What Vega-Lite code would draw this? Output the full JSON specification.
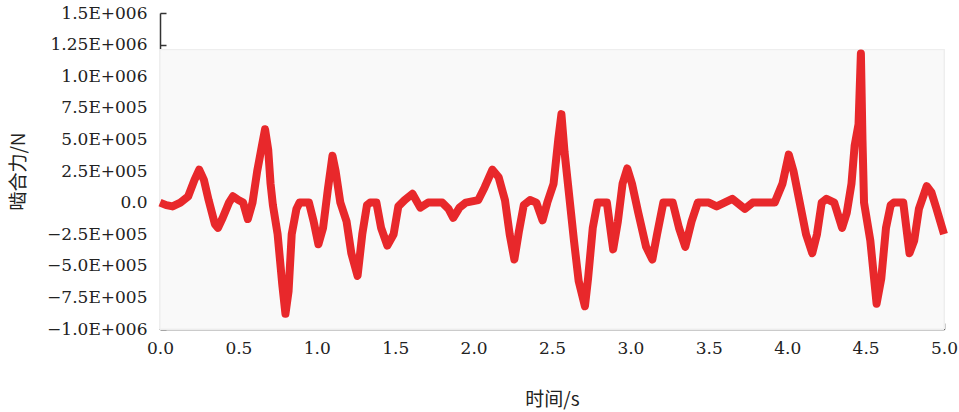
{
  "$schema": "https://vega.github.io/schema/vega-lite/v6.json",
  "width": 784,
  "height": 316,
  "autosize": {"type": "none"},
  "padding": {"left": 160, "top": 13, "right": 15, "bottom": 83},
  "background": "#ffffff",
  "config": {
    "view": {"stroke": null},
    "axis": {
      "grid": false,
      "domainColor": "#333333",
      "domainWidth": 1.5,
      "tickColor": "#333333",
      "tickWidth": 1.5,
      "tickSize": -6,
      "labelFlush": false,
      "labelOverlap": false,
      "labelFont": "DejaVu Serif",
      "labelFontSize": 17,
      "labelColor": "#222222",
      "titleFont": "Noto Sans CJK SC",
      "titleFontSize": 19,
      "titleFontWeight": "normal",
      "titleColor": "#222222"
    }
  },
  "data": {
    "values": [
      {"t": 0.00, "f": 0}, {"t": 0.04, "f": -20000}, {"t": 0.08, "f": -30000},
      {"t": 0.13, "f": 0}, {"t": 0.18, "f": 50000}, {"t": 0.22, "f": 180000},
      {"t": 0.25, "f": 260000}, {"t": 0.28, "f": 180000}, {"t": 0.31, "f": 20000},
      {"t": 0.35, "f": -170000}, {"t": 0.37, "f": -200000}, {"t": 0.40, "f": -120000},
      {"t": 0.44, "f": 0}, {"t": 0.465, "f": 50000}, {"t": 0.50, "f": 20000},
      {"t": 0.53, "f": 0}, {"t": 0.56, "f": -130000}, {"t": 0.59, "f": 0},
      {"t": 0.62, "f": 250000}, {"t": 0.65, "f": 450000}, {"t": 0.67, "f": 580000},
      {"t": 0.69, "f": 420000}, {"t": 0.705, "f": 150000}, {"t": 0.72, "f": -20000},
      {"t": 0.75, "f": -250000}, {"t": 0.78, "f": -650000}, {"t": 0.80, "f": -880000},
      {"t": 0.82, "f": -700000}, {"t": 0.84, "f": -250000}, {"t": 0.87, "f": -50000},
      {"t": 0.89, "f": 0}, {"t": 0.95, "f": 0}, {"t": 0.98, "f": -150000},
      {"t": 1.01, "f": -330000}, {"t": 1.04, "f": -200000}, {"t": 1.07, "f": 100000},
      {"t": 1.10, "f": 370000}, {"t": 1.12, "f": 250000}, {"t": 1.15, "f": 0},
      {"t": 1.19, "f": -150000}, {"t": 1.22, "f": -400000}, {"t": 1.26, "f": -580000},
      {"t": 1.29, "f": -250000}, {"t": 1.32, "f": -20000}, {"t": 1.34, "f": 0},
      {"t": 1.38, "f": 0}, {"t": 1.41, "f": -200000}, {"t": 1.45, "f": -340000},
      {"t": 1.49, "f": -250000}, {"t": 1.52, "f": -30000}, {"t": 1.56, "f": 20000},
      {"t": 1.61, "f": 70000}, {"t": 1.66, "f": -40000}, {"t": 1.71, "f": 0},
      {"t": 1.80, "f": 0}, {"t": 1.84, "f": -50000}, {"t": 1.87, "f": -120000},
      {"t": 1.91, "f": -40000}, {"t": 1.95, "f": 0}, {"t": 2.03, "f": 20000},
      {"t": 2.07, "f": 120000}, {"t": 2.12, "f": 260000}, {"t": 2.16, "f": 200000},
      {"t": 2.20, "f": 20000}, {"t": 2.23, "f": -250000}, {"t": 2.26, "f": -450000},
      {"t": 2.29, "f": -220000}, {"t": 2.32, "f": -20000}, {"t": 2.36, "f": 20000},
      {"t": 2.40, "f": 0}, {"t": 2.44, "f": -140000}, {"t": 2.47, "f": 0},
      {"t": 2.51, "f": 150000}, {"t": 2.54, "f": 500000}, {"t": 2.56, "f": 700000},
      {"t": 2.58, "f": 400000}, {"t": 2.61, "f": 50000}, {"t": 2.64, "f": -300000},
      {"t": 2.67, "f": -620000}, {"t": 2.71, "f": -820000}, {"t": 2.73, "f": -600000},
      {"t": 2.76, "f": -200000}, {"t": 2.79, "f": 0}, {"t": 2.85, "f": 0},
      {"t": 2.89, "f": -370000}, {"t": 2.92, "f": -150000}, {"t": 2.95, "f": 150000},
      {"t": 2.98, "f": 270000}, {"t": 3.01, "f": 150000}, {"t": 3.05, "f": -80000},
      {"t": 3.10, "f": -350000}, {"t": 3.14, "f": -450000}, {"t": 3.17, "f": -250000},
      {"t": 3.21, "f": 0}, {"t": 3.27, "f": 0}, {"t": 3.31, "f": -200000},
      {"t": 3.35, "f": -350000}, {"t": 3.39, "f": -150000}, {"t": 3.43, "f": 0},
      {"t": 3.50, "f": 0}, {"t": 3.55, "f": -30000}, {"t": 3.60, "f": 0},
      {"t": 3.65, "f": 30000}, {"t": 3.70, "f": -20000}, {"t": 3.73, "f": -50000},
      {"t": 3.78, "f": 0}, {"t": 3.92, "f": 0}, {"t": 3.97, "f": 150000},
      {"t": 4.01, "f": 380000}, {"t": 4.04, "f": 250000}, {"t": 4.08, "f": 0},
      {"t": 4.12, "f": -250000}, {"t": 4.16, "f": -400000}, {"t": 4.19, "f": -250000},
      {"t": 4.22, "f": 0}, {"t": 4.25, "f": 30000}, {"t": 4.30, "f": 0},
      {"t": 4.35, "f": -200000}, {"t": 4.38, "f": -80000}, {"t": 4.41, "f": 150000},
      {"t": 4.43, "f": 450000}, {"t": 4.455, "f": 620000}, {"t": 4.47, "f": 1180000},
      {"t": 4.48, "f": 500000}, {"t": 4.49, "f": 0}, {"t": 4.53, "f": -300000},
      {"t": 4.57, "f": -800000}, {"t": 4.60, "f": -600000}, {"t": 4.63, "f": -200000},
      {"t": 4.66, "f": -20000}, {"t": 4.68, "f": 0}, {"t": 4.74, "f": 0},
      {"t": 4.78, "f": -400000}, {"t": 4.81, "f": -300000}, {"t": 4.84, "f": -50000},
      {"t": 4.89, "f": 130000}, {"t": 4.92, "f": 80000}, {"t": 4.95, "f": -40000},
      {"t": 5.00, "f": -250000}
    ]
  },
  "encoding": {
    "x": {
      "field": "t",
      "type": "quantitative",
      "scale": {"domain": [0, 5], "nice": false},
      "axis": {
        "title": "时间/s",
        "values": [0, 0.5, 1, 1.5, 2, 2.5, 3, 3.5, 4, 4.5, 5],
        "format": ".1f",
        "labelPadding": 17,
        "titlePadding": 34
      }
    },
    "y": {
      "field": "f",
      "type": "quantitative",
      "scale": {"domain": [-1000000, 1500000], "nice": false, "zero": false},
      "axis": {
        "title": "啮合力/N",
        "values": [-1000000, -750000, -500000, -250000, 0, 250000, 500000, 750000, 1000000, 1250000, 1500000],
        "labelExpr": "datum.value == 0 ? '0.0' : (datum.value < 0 ? '−' : '') + (abs(datum.value) >= 1000000 ? (abs(datum.value) == 1250000 ? '1.25' : format(abs(datum.value) / 1000000, '.1f')) + 'E+006' : format(abs(datum.value) / 100000, '.1f') + 'E+005')",
        "labelPadding": 19,
        "titlePadding": 18
      }
    }
  },
  "layer": [
    {
      "mark": {"type": "rect", "fill": "#f9f9f9", "stroke": "#eeeeee", "strokeWidth": 1},
      "encoding": {
        "x": {"datum": 0},
        "x2": {"datum": 5},
        "y": {"datum": -1000000},
        "y2": {"datum": 1210000}
      }
    },
    {
      "mark": {"type": "line", "color": "#e8282b", "strokeWidth": 8, "strokeJoin": "round", "interpolate": "linear"}
    }
  ]
}
